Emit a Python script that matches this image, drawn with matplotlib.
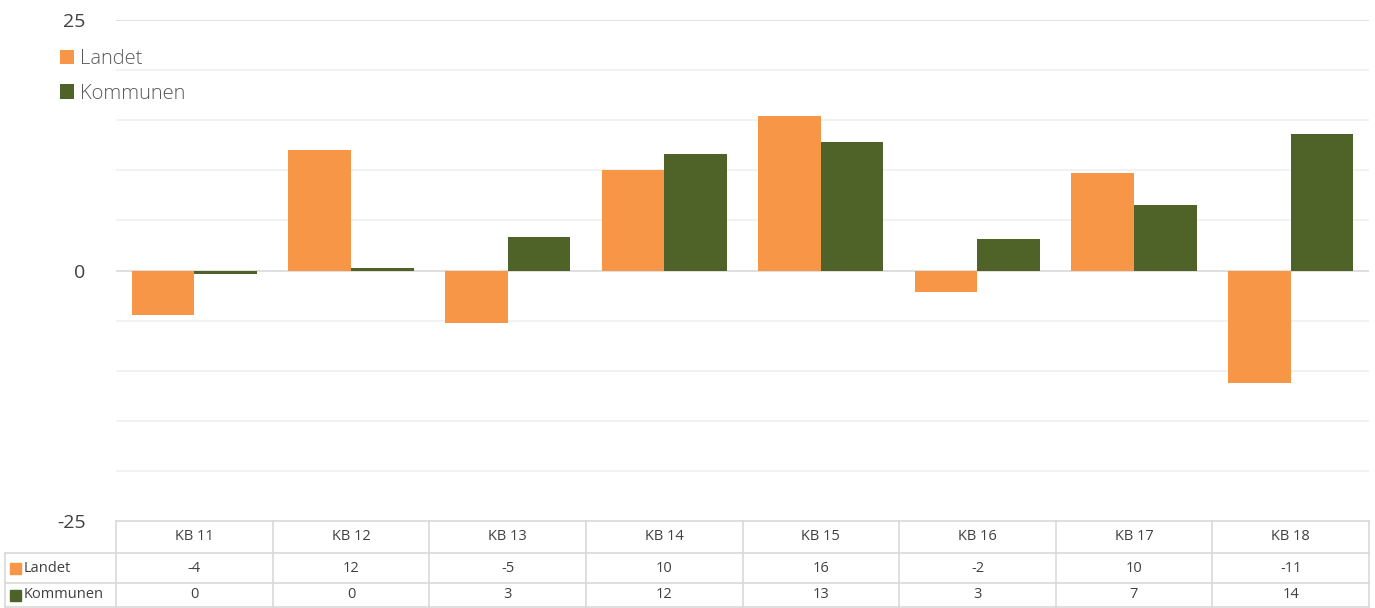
import matplotlib.pyplot as plt
import numpy as np
from matplotlib.transforms import blended_transform_factory
from matplotlib.patches import Rectangle

weeks = ['KB 11', 'KB 12', 'KB 13', 'KB 14', 'KB 15', 'KB 16', 'KB 17', 'KB 18']
landet = [-4.4, 12.0, -5.2, 10.0, 15.4, -2.1, 9.7, -11.2]
kommunen = [-0.3, 0.2, 3.3, 11.6, 12.8, 3.1, 6.5, 13.6]
landet_txt = ['-4', '12', '-5', '10', '16', '-2', '10', '-11']
kommunen_txt = ['0', '0', '3', '12', '13', '3', '7', '14']

orange = '#F79646'
green = '#4F6228'
grid = '#F0F0F0'
line = '#D9D9D9'
txt = '#404040'

plt.rcParams['font.family'] = ['Open Sans', 'DejaVu Sans']

fig = plt.figure(figsize=(13.75, 6.08), dpi=100)
ax = fig.add_axes([116 / 1375, 1 - 521 / 608, (1369 - 116) / 1375, (521 - 20) / 608])

x = np.arange(len(weeks))
w = 0.4
ax.bar(x - w / 2, landet, w, color=orange, label='Landet', zorder=3)
ax.bar(x + w / 2, kommunen, w, color=green, label='Kommunen', zorder=3)

ax.set_xlim(-0.5, len(weeks) - 0.5)
ax.set_ylim(-25, 25)
for yv in range(-20, 26, 5):
    ax.axhline(yv, color=line if yv in (0, 25) else grid, lw=1.2, zorder=1)

ax.set_yticks([-25, 0, 25])
ax.set_yticklabels(['-25', '0', '25'], fontsize=14, color=txt)
ax.tick_params(axis='y', length=0, pad=22)
ax.set_xticks([])
for s in ax.spines.values():
    s.set_visible(False)

leg = ax.legend(loc='upper left', bbox_to_anchor=(52 / 1375, 1 - 41 / 608),
                bbox_transform=fig.transFigure, frameon=False,
                prop={'size': 14.5, 'weight': 'light'},
                handlelength=0.7, handleheight=0.7, handletextpad=0.3,
                labelspacing=0.72, labelcolor='#595959', borderaxespad=0)

# data table under the chart
tr = blended_transform_factory(ax.transData, fig.transFigure)
ft = fig.transFigure
rows = [521, 553, 583, 607]
yf = [1 - r / 608 for r in rows]
lw = 1.2
ax.plot([-0.5, 7.5], [yf[0]] * 2, color=line, lw=lw, transform=tr, clip_on=False)
for r in yf[1:]:
    fig.add_artist(plt.Line2D([5 / 1375, 1369 / 1375], [r, r], color=line, lw=lw))
for b in np.arange(-0.5, 8, 1):
    ax.plot([b, b], [yf[0], yf[3]], color=line, lw=lw, transform=tr, clip_on=False)
fig.add_artist(plt.Line2D([5 / 1375, 5 / 1375], [yf[1], yf[3]], color=line, lw=lw))

for i, wk in enumerate(weeks):
    ax.text(i, (yf[0] + yf[1]) / 2, wk, transform=tr, ha='center', va='center',
            fontsize=10.5, color=txt)
    ax.text(i, (yf[1] + yf[2]) / 2, landet_txt[i], transform=tr, ha='center',
            va='center', fontsize=10.5, color=txt)
    ax.text(i, (yf[2] + yf[3]) / 2, kommunen_txt[i], transform=tr, ha='center',
            va='center', fontsize=10.5, color=txt)

for yy, name, col in [((yf[1] + yf[2]) / 2, 'Landet', orange),
                      ((yf[2] + yf[3]) / 2, 'Kommunen', green)]:
    fig.add_artist(Rectangle((10 / 1375, yy - 5.5 / 608), 11 / 1375, 11 / 608,
                             transform=ft, color=col))
    fig.text(24 / 1375, yy, name, ha='left', va='center', fontsize=10.5, color=txt)

fig.savefig('out.png', dpi=100)
